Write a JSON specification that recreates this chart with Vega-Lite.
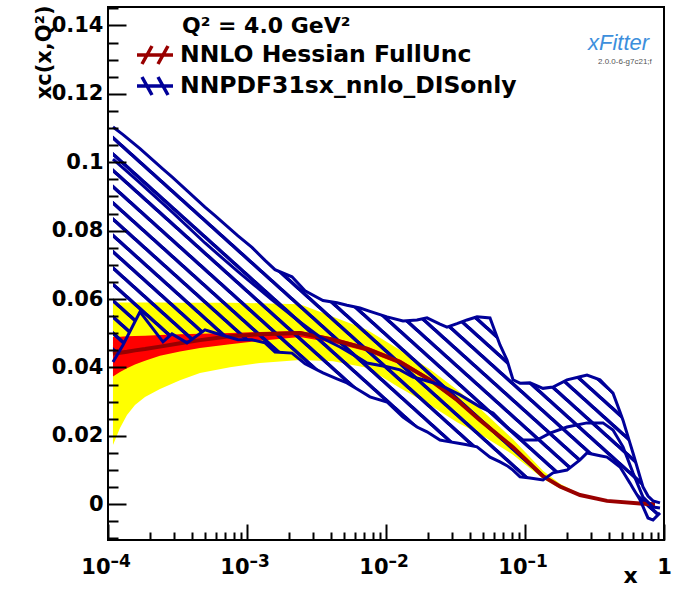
{
  "$schema": "https://vega.github.io/schema/vega-lite/v6.json",
  "width": 556,
  "height": 533,
  "autosize": "none",
  "padding": {"left": 108, "top": 7, "right": 13, "bottom": 49},
  "background": "white",
  "datasets": {
    "nnlo": [
      {"series": "NNLO Hessian FullUnc", "x": 0.0001086, "c": 0.0440, "rlo": 0.0374, "rhi": 0.0489, "ylo": 0.0173, "yhi": 0.0590},
      {"series": "NNLO Hessian FullUnc", "x": 0.0001220, "c": 0.0443, "rlo": 0.0387, "rhi": 0.0490, "ylo": 0.0223, "yhi": 0.0590},
      {"series": "NNLO Hessian FullUnc", "x": 0.0001370, "c": 0.0446, "rlo": 0.0398, "rhi": 0.0491, "ylo": 0.0261, "yhi": 0.0590},
      {"series": "NNLO Hessian FullUnc", "x": 0.0001564, "c": 0.0450, "rlo": 0.0409, "rhi": 0.0492, "ylo": 0.0290, "yhi": 0.0590},
      {"series": "NNLO Hessian FullUnc", "x": 0.0001846, "c": 0.0454, "rlo": 0.0420, "rhi": 0.0493, "ylo": 0.0314, "yhi": 0.0590},
      {"series": "NNLO Hessian FullUnc", "x": 0.0002366, "c": 0.0461, "rlo": 0.0434, "rhi": 0.0495, "ylo": 0.0337, "yhi": 0.0590},
      {"series": "NNLO Hessian FullUnc", "x": 0.0003296, "c": 0.0471, "rlo": 0.0447, "rhi": 0.0497, "ylo": 0.0363, "yhi": 0.0589},
      {"series": "NNLO Hessian FullUnc", "x": 0.0004590, "c": 0.0480, "rlo": 0.0457, "rhi": 0.0499, "ylo": 0.0384, "yhi": 0.0589},
      {"series": "NNLO Hessian FullUnc", "x": 0.0007545, "c": 0.0491, "rlo": 0.0468, "rhi": 0.0501, "ylo": 0.0401, "yhi": 0.0589},
      {"series": "NNLO Hessian FullUnc", "x": 0.001241, "c": 0.0497, "rlo": 0.0478, "rhi": 0.0504, "ylo": 0.0413, "yhi": 0.0588},
      {"series": "NNLO Hessian FullUnc", "x": 0.002405, "c": 0.0501, "rlo": 0.0489, "rhi": 0.0507, "ylo": 0.0422, "yhi": 0.0585},
      {"series": "NNLO Hessian FullUnc", "x": 0.004156, "c": 0.0481, "rlo": 0.0472, "rhi": 0.0488, "ylo": 0.0418, "yhi": 0.0548},
      {"series": "NNLO Hessian FullUnc", "x": 0.007300, "c": 0.0454, "rlo": 0.0447, "rhi": 0.0461, "ylo": 0.0399, "yhi": 0.0510},
      {"series": "NNLO Hessian FullUnc", "x": 0.01261, "c": 0.0416, "rlo": 0.0409, "rhi": 0.0423, "ylo": 0.0340, "yhi": 0.0451},
      {"series": "NNLO Hessian FullUnc", "x": 0.02072, "c": 0.0364, "rlo": 0.0358, "rhi": 0.0370, "ylo": 0.0290, "yhi": 0.0395},
      {"series": "NNLO Hessian FullUnc", "x": 0.03242, "c": 0.0305, "rlo": 0.0299, "rhi": 0.0311, "ylo": 0.0240, "yhi": 0.0335},
      {"series": "NNLO Hessian FullUnc", "x": 0.04745, "c": 0.0246, "rlo": 0.0241, "rhi": 0.0251, "ylo": 0.0205, "yhi": 0.0280},
      {"series": "NNLO Hessian FullUnc", "x": 0.08196, "c": 0.0167, "rlo": 0.0163, "rhi": 0.0171, "ylo": 0.0145, "yhi": 0.0190},
      {"series": "NNLO Hessian FullUnc", "x": 0.1347, "c": 0.0082, "rlo": 0.0080, "rhi": 0.0084, "ylo": 0.0075, "yhi": 0.0098},
      {"series": "NNLO Hessian FullUnc", "x": 0.1786, "c": 0.0052, "rlo": 0.0051, "rhi": 0.0053, "ylo": 0.0046, "yhi": 0.0060},
      {"series": "NNLO Hessian FullUnc", "x": 0.2487, "c": 0.0027, "rlo": 0.0026, "rhi": 0.0028, "ylo": 0.0025, "yhi": 0.0030},
      {"series": "NNLO Hessian FullUnc", "x": 0.3890, "c": 0.0010, "rlo": 0.0010, "rhi": 0.0010, "ylo": 0.0009, "yhi": 0.0011},
      {"series": "NNLO Hessian FullUnc", "x": 0.6720, "c": 0.0002, "rlo": 0.0002, "rhi": 0.0002, "ylo": 0.0002, "yhi": 0.0002},
      {"series": "NNLO Hessian FullUnc", "x": 0.8617, "c": 0.0, "rlo": 0.0, "rhi": 0.0, "ylo": 0.0, "yhi": 0.0}
    ],
    "nnpdf": [
      {"x": 0.0001086, "lo": 0.0416, "hi": 0.1103},
      {"x": 0.0001282, "lo": 0.0466, "hi": 0.1081},
      {"x": 0.0001699, "lo": 0.0563, "hi": 0.1040},
      {"x": 0.0002487, "lo": 0.0475, "hi": 0.0980},
      {"x": 0.0002886, "lo": 0.0498, "hi": 0.0957},
      {"x": 0.0003701, "lo": 0.0472, "hi": 0.0917},
      {"x": 0.0004986, "lo": 0.0510, "hi": 0.0869},
      {"x": 0.0005886, "lo": 0.0501, "hi": 0.0844},
      {"x": 0.0008615, "lo": 0.0481, "hi": 0.0785},
      {"x": 0.001086, "lo": 0.0481, "hi": 0.0751},
      {"x": 0.001348, "lo": 0.0472, "hi": 0.0713},
      {"x": 0.001590, "lo": 0.0445, "hi": 0.0686},
      {"x": 0.002107, "lo": 0.0442, "hi": 0.0665},
      {"x": 0.002615, "lo": 0.0411, "hi": 0.0624},
      {"x": 0.003522, "lo": 0.0384, "hi": 0.0596},
      {"x": 0.004441, "lo": 0.0367, "hi": 0.0589},
      {"x": 0.005240, "lo": 0.0355, "hi": 0.0582},
      {"x": 0.006499, "lo": 0.0332, "hi": 0.0574},
      {"x": 0.007669, "lo": 0.0314, "hi": 0.0564},
      {"x": 0.01017, "lo": 0.0299, "hi": 0.0548},
      {"x": 0.01325, "lo": 0.0255, "hi": 0.0536},
      {"x": 0.01671, "lo": 0.0226, "hi": 0.0539},
      {"x": 0.01972, "lo": 0.0212, "hi": 0.0545},
      {"x": 0.02446, "lo": 0.0188, "hi": 0.0527},
      {"x": 0.02747, "lo": 0.0184, "hi": 0.0518},
      {"x": 0.03242, "lo": 0.0179, "hi": 0.0528},
      {"x": 0.03826, "lo": 0.0174, "hi": 0.0539},
      {"x": 0.04516, "lo": 0.0168, "hi": 0.0548},
      {"x": 0.05600, "lo": 0.0138, "hi": 0.0545},
      {"x": 0.06609, "lo": 0.0124, "hi": 0.0466},
      {"x": 0.07422, "lo": 0.0113, "hi": 0.0422},
      {"x": 0.08196, "lo": 0.0100, "hi": 0.0364},
      {"x": 0.09205, "lo": 0.0080, "hi": 0.0354},
      {"x": 0.1086, "lo": 0.0077, "hi": 0.0355},
      {"x": 0.1347, "lo": 0.0071, "hi": 0.0339},
      {"x": 0.1590, "lo": 0.0092, "hi": 0.0343},
      {"x": 0.2005, "lo": 0.0100, "hi": 0.0364},
      {"x": 0.2487, "lo": 0.0130, "hi": 0.0373},
      {"x": 0.2793, "lo": 0.0150, "hi": 0.0378},
      {"x": 0.3464, "lo": 0.0142, "hi": 0.0364},
      {"x": 0.3890, "lo": 0.0138, "hi": 0.0343},
      {"x": 0.4296, "lo": 0.0125, "hi": 0.0325},
      {"x": 0.4826, "lo": 0.0109, "hi": 0.0270},
      {"x": 0.5070, "lo": 0.0095, "hi": 0.0246},
      {"x": 0.5692, "lo": 0.0062, "hi": 0.0179},
      {"x": 0.5983, "lo": 0.0047, "hi": 0.0150},
      {"x": 0.6720, "lo": 0.0013, "hi": 0.0080},
      {"x": 0.7062, "lo": -0.0007, "hi": 0.0051},
      {"x": 0.7671, "lo": -0.0040, "hi": 0.0024},
      {"x": 0.8334, "lo": -0.0046, "hi": 0.0010},
      {"x": 0.9358, "lo": -0.0025, "hi": 0.0004}
    ],
    "nnpdfMid": [
      {"series": "NNPDF31sx_nnlo_DISonly", "x": 0.0001086, "m": 0.1009},
      {"series": "NNPDF31sx_nnlo_DISonly", "x": 0.0001643, "m": 0.0945},
      {"series": "NNPDF31sx_nnlo_DISonly", "x": 0.0002886, "m": 0.0855},
      {"series": "NNPDF31sx_nnlo_DISonly", "x": 0.0004986, "m": 0.0764},
      {"series": "NNPDF31sx_nnlo_DISonly", "x": 0.0008615, "m": 0.0680},
      {"series": "NNPDF31sx_nnlo_DISonly", "x": 0.001513, "m": 0.0598},
      {"series": "NNPDF31sx_nnlo_DISonly", "x": 0.002405, "m": 0.0533},
      {"series": "NNPDF31sx_nnlo_DISonly", "x": 0.003351, "m": 0.0489},
      {"series": "NNPDF31sx_nnlo_DISonly", "x": 0.004667, "m": 0.0460},
      {"series": "NNPDF31sx_nnlo_DISonly", "x": 0.006184, "m": 0.0431},
      {"series": "NNPDF31sx_nnlo_DISonly", "x": 0.007300, "m": 0.0413},
      {"series": "NNPDF31sx_nnlo_DISonly", "x": 0.01017, "m": 0.0402},
      {"series": "NNPDF31sx_nnlo_DISonly", "x": 0.01261, "m": 0.0393},
      {"series": "NNPDF31sx_nnlo_DISonly", "x": 0.01564, "m": 0.0372},
      {"series": "NNPDF31sx_nnlo_DISonly", "x": 0.01845, "m": 0.0364},
      {"series": "NNPDF31sx_nnlo_DISonly", "x": 0.02446, "m": 0.0349},
      {"series": "NNPDF31sx_nnlo_DISonly", "x": 0.03407, "m": 0.0320},
      {"series": "NNPDF31sx_nnlo_DISonly", "x": 0.04745, "m": 0.0285},
      {"series": "NNPDF31sx_nnlo_DISonly", "x": 0.05886, "m": 0.0267},
      {"series": "NNPDF31sx_nnlo_DISonly", "x": 0.07422, "m": 0.0226},
      {"series": "NNPDF31sx_nnlo_DISonly", "x": 0.09674, "m": 0.0188},
      {"series": "NNPDF31sx_nnlo_DISonly", "x": 0.1220, "m": 0.0188},
      {"series": "NNPDF31sx_nnlo_DISonly", "x": 0.1513, "m": 0.0208},
      {"series": "NNPDF31sx_nnlo_DISonly", "x": 0.2005, "m": 0.0226},
      {"series": "NNPDF31sx_nnlo_DISonly", "x": 0.2793, "m": 0.0238},
      {"series": "NNPDF31sx_nnlo_DISonly", "x": 0.3640, "m": 0.0238},
      {"series": "NNPDF31sx_nnlo_DISonly", "x": 0.4296, "m": 0.0217},
      {"series": "NNPDF31sx_nnlo_DISonly", "x": 0.5070, "m": 0.0168},
      {"series": "NNPDF31sx_nnlo_DISonly", "x": 0.5983, "m": 0.0092},
      {"series": "NNPDF31sx_nnlo_DISonly", "x": 0.7062, "m": 0.0021},
      {"series": "NNPDF31sx_nnlo_DISonly", "x": 0.8334, "m": -0.0008},
      {"series": "NNPDF31sx_nnlo_DISonly", "x": 0.9358, "m": -0.0011}
    ]
  },
  "resolve": {"axis": {"x": "independent", "y": "independent"}},
  "layer": [
    {
      "data": {"name": "nnlo"},
      "mark": {"type": "area", "color": "#ffff00", "clip": true},
      "encoding": {
        "x": {"field": "x", "type": "quantitative", "scale": {"type": "log", "domain": [0.0001, 1], "nice": false},
          "axis": {"orient": "bottom", "values": [0.0001, 0.001, 0.01, 0.1, 1], "labels": false, "tickSize": -16, "domain": false, "grid": false, "zindex": 1,
            "title": "x", "titleX": 515, "titleY": 42, "titleAlign": "left", "titleBaseline": "alphabetic", "titleFont": "DejaVu Sans", "titleFontWeight": "bold", "titleFontSize": 22, "titleColor": "black"}},
        "y": {"field": "ylo", "type": "quantitative", "scale": {"domain": [-0.01044, 0.1454], "nice": false, "zero": false},
          "axis": {"orient": "left", "values": [0, 0.02, 0.04, 0.06, 0.08, 0.1, 0.12, 0.14], "labels": false, "tickSize": -18, "domain": false, "grid": false, "zindex": 1,
            "title": "xc(x,Q²)", "titleX": -58, "titleY": -2, "titleAngle": 270, "titleAlign": "right", "titleBaseline": "alphabetic", "titleFont": "DejaVu Sans", "titleFontWeight": "bold", "titleFontSize": 21, "titleColor": "black"}},
        "y2": {"field": "yhi"}
      }
    },
    {
      "data": {"name": "nnlo"},
      "mark": {"type": "area", "color": "#ff0000", "clip": true},
      "encoding": {
        "x": {"field": "x", "type": "quantitative", "scale": {"type": "log", "domain": [0.0001, 1], "nice": false},
          "axis": {"orient": "bottom", "values": [0.0002, 0.0003, 0.0004, 0.0005, 0.0006, 0.0007, 0.0008, 0.0009, 0.002, 0.003, 0.004, 0.005, 0.006, 0.007, 0.008, 0.009, 0.02, 0.03, 0.04, 0.05, 0.06, 0.07, 0.08, 0.09, 0.2, 0.3, 0.4, 0.5, 0.6, 0.7, 0.8, 0.9],
            "labels": false, "tickSize": -8, "domain": false, "grid": false, "zindex": 1, "title": null}},
        "y": {"field": "rlo", "type": "quantitative", "scale": {"domain": [-0.01044, 0.1454], "nice": false, "zero": false},
          "axis": {"orient": "left", "values": [-0.01, -0.005, 0.005, 0.01, 0.015, 0.025, 0.03, 0.035, 0.045, 0.05, 0.055, 0.065, 0.07, 0.075, 0.085, 0.09, 0.095, 0.105, 0.11, 0.115, 0.125, 0.13, 0.135, 0.145],
            "labels": false, "tickSize": -10, "domain": false, "grid": false, "zindex": 1, "title": null}},
        "y2": {"field": "rhi"}
      }
    },
    {
      "data": {"name": "nnpdf"},
      "mark": {
        "type": "area", "clip": true,
        "fill": {
          "gradient": "linear", "x1": 0, "y1": 1, "x2": 1.0984, "y2": 0.1234,
          "stops": [
            {"offset": 0.0054, "color": "rgba(0,0,153,0)"}, {"offset": 0.0066, "color": "#000099"}, {"offset": 0.0108, "color": "#000099"}, {"offset": 0.0120, "color": "rgba(0,0,153,0)"},
            {"offset": 0.0238, "color": "rgba(0,0,153,0)"}, {"offset": 0.0250, "color": "#000099"}, {"offset": 0.0292, "color": "#000099"}, {"offset": 0.0304, "color": "rgba(0,0,153,0)"},
            {"offset": 0.0422, "color": "rgba(0,0,153,0)"}, {"offset": 0.0434, "color": "#000099"}, {"offset": 0.0476, "color": "#000099"}, {"offset": 0.0488, "color": "rgba(0,0,153,0)"},
            {"offset": 0.0606, "color": "rgba(0,0,153,0)"}, {"offset": 0.0618, "color": "#000099"}, {"offset": 0.0660, "color": "#000099"}, {"offset": 0.0672, "color": "rgba(0,0,153,0)"},
            {"offset": 0.0790, "color": "rgba(0,0,153,0)"}, {"offset": 0.0802, "color": "#000099"}, {"offset": 0.0844, "color": "#000099"}, {"offset": 0.0856, "color": "rgba(0,0,153,0)"},
            {"offset": 0.0974, "color": "rgba(0,0,153,0)"}, {"offset": 0.0986, "color": "#000099"}, {"offset": 0.1028, "color": "#000099"}, {"offset": 0.1040, "color": "rgba(0,0,153,0)"},
            {"offset": 0.1158, "color": "rgba(0,0,153,0)"}, {"offset": 0.1170, "color": "#000099"}, {"offset": 0.1212, "color": "#000099"}, {"offset": 0.1224, "color": "rgba(0,0,153,0)"},
            {"offset": 0.1341, "color": "rgba(0,0,153,0)"}, {"offset": 0.1353, "color": "#000099"}, {"offset": 0.1395, "color": "#000099"}, {"offset": 0.1407, "color": "rgba(0,0,153,0)"},
            {"offset": 0.1525, "color": "rgba(0,0,153,0)"}, {"offset": 0.1537, "color": "#000099"}, {"offset": 0.1579, "color": "#000099"}, {"offset": 0.1591, "color": "rgba(0,0,153,0)"},
            {"offset": 0.1709, "color": "rgba(0,0,153,0)"}, {"offset": 0.1721, "color": "#000099"}, {"offset": 0.1763, "color": "#000099"}, {"offset": 0.1775, "color": "rgba(0,0,153,0)"},
            {"offset": 0.1893, "color": "rgba(0,0,153,0)"}, {"offset": 0.1905, "color": "#000099"}, {"offset": 0.1947, "color": "#000099"}, {"offset": 0.1959, "color": "rgba(0,0,153,0)"},
            {"offset": 0.2077, "color": "rgba(0,0,153,0)"}, {"offset": 0.2089, "color": "#000099"}, {"offset": 0.2131, "color": "#000099"}, {"offset": 0.2143, "color": "rgba(0,0,153,0)"},
            {"offset": 0.2261, "color": "rgba(0,0,153,0)"}, {"offset": 0.2273, "color": "#000099"}, {"offset": 0.2315, "color": "#000099"}, {"offset": 0.2327, "color": "rgba(0,0,153,0)"},
            {"offset": 0.2445, "color": "rgba(0,0,153,0)"}, {"offset": 0.2457, "color": "#000099"}, {"offset": 0.2499, "color": "#000099"}, {"offset": 0.2511, "color": "rgba(0,0,153,0)"},
            {"offset": 0.2629, "color": "rgba(0,0,153,0)"}, {"offset": 0.2641, "color": "#000099"}, {"offset": 0.2683, "color": "#000099"}, {"offset": 0.2695, "color": "rgba(0,0,153,0)"},
            {"offset": 0.2813, "color": "rgba(0,0,153,0)"}, {"offset": 0.2825, "color": "#000099"}, {"offset": 0.2867, "color": "#000099"}, {"offset": 0.2879, "color": "rgba(0,0,153,0)"},
            {"offset": 0.2997, "color": "rgba(0,0,153,0)"}, {"offset": 0.3009, "color": "#000099"}, {"offset": 0.3051, "color": "#000099"}, {"offset": 0.3063, "color": "rgba(0,0,153,0)"},
            {"offset": 0.3181, "color": "rgba(0,0,153,0)"}, {"offset": 0.3193, "color": "#000099"}, {"offset": 0.3235, "color": "#000099"}, {"offset": 0.3247, "color": "rgba(0,0,153,0)"},
            {"offset": 0.3365, "color": "rgba(0,0,153,0)"}, {"offset": 0.3377, "color": "#000099"}, {"offset": 0.3419, "color": "#000099"}, {"offset": 0.3431, "color": "rgba(0,0,153,0)"},
            {"offset": 0.3548, "color": "rgba(0,0,153,0)"}, {"offset": 0.3560, "color": "#000099"}, {"offset": 0.3602, "color": "#000099"}, {"offset": 0.3614, "color": "rgba(0,0,153,0)"},
            {"offset": 0.3732, "color": "rgba(0,0,153,0)"}, {"offset": 0.3744, "color": "#000099"}, {"offset": 0.3786, "color": "#000099"}, {"offset": 0.3798, "color": "rgba(0,0,153,0)"},
            {"offset": 0.3916, "color": "rgba(0,0,153,0)"}, {"offset": 0.3928, "color": "#000099"}, {"offset": 0.3970, "color": "#000099"}, {"offset": 0.3982, "color": "rgba(0,0,153,0)"},
            {"offset": 0.4100, "color": "rgba(0,0,153,0)"}, {"offset": 0.4112, "color": "#000099"}, {"offset": 0.4154, "color": "#000099"}, {"offset": 0.4166, "color": "rgba(0,0,153,0)"},
            {"offset": 0.4284, "color": "rgba(0,0,153,0)"}, {"offset": 0.4296, "color": "#000099"}, {"offset": 0.4338, "color": "#000099"}, {"offset": 0.4350, "color": "rgba(0,0,153,0)"},
            {"offset": 0.4468, "color": "rgba(0,0,153,0)"}, {"offset": 0.4480, "color": "#000099"}, {"offset": 0.4522, "color": "#000099"}, {"offset": 0.4534, "color": "rgba(0,0,153,0)"},
            {"offset": 0.4652, "color": "rgba(0,0,153,0)"}, {"offset": 0.4664, "color": "#000099"}, {"offset": 0.4706, "color": "#000099"}, {"offset": 0.4718, "color": "rgba(0,0,153,0)"},
            {"offset": 0.4836, "color": "rgba(0,0,153,0)"}, {"offset": 0.4848, "color": "#000099"}, {"offset": 0.4890, "color": "#000099"}, {"offset": 0.4902, "color": "rgba(0,0,153,0)"},
            {"offset": 0.5020, "color": "rgba(0,0,153,0)"}, {"offset": 0.5032, "color": "#000099"}, {"offset": 0.5074, "color": "#000099"}, {"offset": 0.5086, "color": "rgba(0,0,153,0)"},
            {"offset": 0.5204, "color": "rgba(0,0,153,0)"}, {"offset": 0.5216, "color": "#000099"}, {"offset": 0.5258, "color": "#000099"}, {"offset": 0.5270, "color": "rgba(0,0,153,0)"},
            {"offset": 0.5388, "color": "rgba(0,0,153,0)"}, {"offset": 0.5400, "color": "#000099"}, {"offset": 0.5442, "color": "#000099"}, {"offset": 0.5454, "color": "rgba(0,0,153,0)"},
            {"offset": 0.5572, "color": "rgba(0,0,153,0)"}, {"offset": 0.5584, "color": "#000099"}, {"offset": 0.5626, "color": "#000099"}, {"offset": 0.5638, "color": "rgba(0,0,153,0)"},
            {"offset": 0.5756, "color": "rgba(0,0,153,0)"}, {"offset": 0.5768, "color": "#000099"}, {"offset": 0.5810, "color": "#000099"}, {"offset": 0.5822, "color": "rgba(0,0,153,0)"},
            {"offset": 0.5939, "color": "rgba(0,0,153,0)"}, {"offset": 0.5951, "color": "#000099"}, {"offset": 0.5993, "color": "#000099"}, {"offset": 0.6005, "color": "rgba(0,0,153,0)"},
            {"offset": 0.6123, "color": "rgba(0,0,153,0)"}, {"offset": 0.6135, "color": "#000099"}, {"offset": 0.6177, "color": "#000099"}, {"offset": 0.6189, "color": "rgba(0,0,153,0)"},
            {"offset": 0.6307, "color": "rgba(0,0,153,0)"}, {"offset": 0.6319, "color": "#000099"}, {"offset": 0.6361, "color": "#000099"}, {"offset": 0.6373, "color": "rgba(0,0,153,0)"},
            {"offset": 0.6491, "color": "rgba(0,0,153,0)"}, {"offset": 0.6503, "color": "#000099"}, {"offset": 0.6545, "color": "#000099"}, {"offset": 0.6557, "color": "rgba(0,0,153,0)"},
            {"offset": 0.6675, "color": "rgba(0,0,153,0)"}, {"offset": 0.6687, "color": "#000099"}, {"offset": 0.6729, "color": "#000099"}, {"offset": 0.6741, "color": "rgba(0,0,153,0)"},
            {"offset": 0.6859, "color": "rgba(0,0,153,0)"}, {"offset": 0.6871, "color": "#000099"}, {"offset": 0.6913, "color": "#000099"}, {"offset": 0.6925, "color": "rgba(0,0,153,0)"},
            {"offset": 0.7043, "color": "rgba(0,0,153,0)"}, {"offset": 0.7055, "color": "#000099"}, {"offset": 0.7097, "color": "#000099"}, {"offset": 0.7109, "color": "rgba(0,0,153,0)"},
            {"offset": 0.7227, "color": "rgba(0,0,153,0)"}, {"offset": 0.7239, "color": "#000099"}, {"offset": 0.7281, "color": "#000099"}, {"offset": 0.7293, "color": "rgba(0,0,153,0)"},
            {"offset": 0.7411, "color": "rgba(0,0,153,0)"}, {"offset": 0.7423, "color": "#000099"}, {"offset": 0.7465, "color": "#000099"}, {"offset": 0.7477, "color": "rgba(0,0,153,0)"},
            {"offset": 0.7595, "color": "rgba(0,0,153,0)"}, {"offset": 0.7607, "color": "#000099"}, {"offset": 0.7649, "color": "#000099"}, {"offset": 0.7661, "color": "rgba(0,0,153,0)"},
            {"offset": 0.7779, "color": "rgba(0,0,153,0)"}, {"offset": 0.7791, "color": "#000099"}, {"offset": 0.7833, "color": "#000099"}, {"offset": 0.7845, "color": "rgba(0,0,153,0)"},
            {"offset": 0.7963, "color": "rgba(0,0,153,0)"}, {"offset": 0.7975, "color": "#000099"}, {"offset": 0.8017, "color": "#000099"}, {"offset": 0.8029, "color": "rgba(0,0,153,0)"},
            {"offset": 0.8146, "color": "rgba(0,0,153,0)"}, {"offset": 0.8158, "color": "#000099"}, {"offset": 0.8200, "color": "#000099"}, {"offset": 0.8212, "color": "rgba(0,0,153,0)"},
            {"offset": 0.8330, "color": "rgba(0,0,153,0)"}, {"offset": 0.8342, "color": "#000099"}, {"offset": 0.8384, "color": "#000099"}, {"offset": 0.8396, "color": "rgba(0,0,153,0)"},
            {"offset": 0.8514, "color": "rgba(0,0,153,0)"}, {"offset": 0.8526, "color": "#000099"}, {"offset": 0.8568, "color": "#000099"}, {"offset": 0.8580, "color": "rgba(0,0,153,0)"},
            {"offset": 0.8698, "color": "rgba(0,0,153,0)"}, {"offset": 0.8710, "color": "#000099"}, {"offset": 0.8752, "color": "#000099"}, {"offset": 0.8764, "color": "rgba(0,0,153,0)"},
            {"offset": 0.8882, "color": "rgba(0,0,153,0)"}, {"offset": 0.8894, "color": "#000099"}, {"offset": 0.8936, "color": "#000099"}, {"offset": 0.8948, "color": "rgba(0,0,153,0)"},
            {"offset": 0.9066, "color": "rgba(0,0,153,0)"}, {"offset": 0.9078, "color": "#000099"}, {"offset": 0.9120, "color": "#000099"}, {"offset": 0.9132, "color": "rgba(0,0,153,0)"},
            {"offset": 0.9250, "color": "rgba(0,0,153,0)"}, {"offset": 0.9262, "color": "#000099"}, {"offset": 0.9304, "color": "#000099"}, {"offset": 0.9316, "color": "rgba(0,0,153,0)"},
            {"offset": 0.9434, "color": "rgba(0,0,153,0)"}, {"offset": 0.9446, "color": "#000099"}, {"offset": 0.9488, "color": "#000099"}, {"offset": 0.9500, "color": "rgba(0,0,153,0)"},
            {"offset": 0.9618, "color": "rgba(0,0,153,0)"}, {"offset": 0.9630, "color": "#000099"}, {"offset": 0.9672, "color": "#000099"}, {"offset": 0.9684, "color": "rgba(0,0,153,0)"},
            {"offset": 0.9802, "color": "rgba(0,0,153,0)"}, {"offset": 0.9814, "color": "#000099"}, {"offset": 0.9856, "color": "#000099"}, {"offset": 0.9868, "color": "rgba(0,0,153,0)"}
          ]
        }
      },
      "encoding": {
        "x": {"field": "x", "type": "quantitative", "scale": {"type": "log", "domain": [0.0001, 1], "nice": false},
          "axis": {"orient": "bottom", "values": [0.0001, 0.001, 0.01, 0.1, 1], "ticks": false, "tickSize": 0, "domain": false, "grid": false, "title": null,
            "labelExpr": "datum.value > 0.5 ? '1' : '10'",
            "labelAlign": {"condition": {"test": "datum.value > 0.5", "value": "center"}, "value": "right"},
            "labelOffset": {"condition": {"test": "datum.value > 0.5", "value": 0}, "value": 2},
            "labelBaseline": "alphabetic", "labelPadding": 33, "labelFont": "DejaVu Sans", "labelFontWeight": "bold", "labelFontSize": 21, "labelColor": "black",
            "labelFlush": false, "labelOverlap": false, "zindex": 1}},
        "y": {"field": "lo", "type": "quantitative", "scale": {"domain": [-0.01044, 0.1454], "nice": false, "zero": false},
          "axis": {"orient": "left", "values": [0, 0.02, 0.04, 0.06, 0.08, 0.1, 0.12, 0.14], "ticks": false, "tickSize": 0, "domain": false, "grid": false, "title": null,
            "labelExpr": "format(datum.value, '.2~f')", "labelPadding": 5, "labelAlign": "right", "labelBaseline": "middle",
            "labelFont": "DejaVu Sans", "labelFontWeight": "bold", "labelFontSize": 21, "labelColor": "black", "labelFlush": false, "labelOverlap": false, "zindex": 1}},
        "y2": {"field": "hi"}
      }
    },
    {
      "data": {"name": "nnlo"},
      "mark": {"type": "line", "strokeWidth": 4, "clip": true},
      "encoding": {
        "x": {"field": "x", "type": "quantitative", "scale": {"type": "log", "domain": [0.0001, 1], "nice": false},
          "axis": {"orient": "bottom", "values": [0.0001, 0.001, 0.01, 0.1], "ticks": false, "tickSize": 0, "domain": false, "grid": false, "title": null,
            "labelExpr": "'–' + round(-log(datum.value) / LN10)", "labelAlign": "left", "labelOffset": 2,
            "labelBaseline": "alphabetic", "labelPadding": 26, "labelFont": "DejaVu Sans", "labelFontWeight": "bold", "labelFontSize": 17, "labelColor": "black",
            "labelFlush": false, "labelOverlap": false, "zindex": 1}},
        "y": {"field": "c", "type": "quantitative", "scale": {"domain": [-0.01044, 0.1454], "nice": false, "zero": false}, "axis": null},
        "color": {"field": "series", "type": "nominal",
          "scale": {"domain": ["NNLO Hessian FullUnc", "NNPDF31sx_nnlo_DISonly"], "range": ["#990000", "#000099"]},
          "legend": {
            "orient": "none", "legendX": 35, "legendY": 36, "title": null, "padding": 0,
            "labelFont": "DejaVu Sans", "labelFontWeight": "bold", "labelFontSize": 23.5, "labelColor": "black", "labelLimit": 420,
            "labelOffset": 13, "rowPadding": -1, "symbolSize": 400, "symbolStrokeWidth": 3.5,
            "encode": {"symbols": {"update": {
              "shape": {"signal": "datum.value === 'NNLO Hessian FullUnc' ? 'M-1.8,0L1.8,0M-1.3,0.9L-0.3,-0.9M0.3,0.9L1.3,-0.9' : 'M-1.8,0L1.8,0M-1.3,-0.9L-0.3,0.9M0.3,-0.9L1.3,0.9'"},
              "fill": {"value": "transparent"}
            }}}
          }}
      }
    },
    {
      "data": {"name": "nnpdfMid"},
      "mark": {"type": "line", "strokeWidth": 3, "clip": true},
      "encoding": {
        "x": {"field": "x", "type": "quantitative", "scale": {"type": "log", "domain": [0.0001, 1], "nice": false}, "axis": null},
        "y": {"field": "m", "type": "quantitative", "scale": {"domain": [-0.01044, 0.1454], "nice": false, "zero": false}, "axis": null},
        "color": {"field": "series", "type": "nominal"}
      }
    },
    {
      "data": {"name": "nnpdf"},
      "mark": {"type": "line", "color": "#000099", "strokeWidth": 3, "clip": true},
      "encoding": {
        "x": {"field": "x", "type": "quantitative", "scale": {"type": "log", "domain": [0.0001, 1], "nice": false}, "axis": null},
        "y": {"field": "hi", "type": "quantitative", "scale": {"domain": [-0.01044, 0.1454], "nice": false, "zero": false}, "axis": null}
      }
    },
    {
      "data": {"name": "nnpdf"},
      "mark": {"type": "line", "color": "#000099", "strokeWidth": 3, "clip": true},
      "encoding": {
        "x": {"field": "x", "type": "quantitative", "scale": {"type": "log", "domain": [0.0001, 1], "nice": false}, "axis": null},
        "y": {"field": "lo", "type": "quantitative", "scale": {"domain": [-0.01044, 0.1454], "nice": false, "zero": false}, "axis": null}
      }
    },
    {
      "data": {"values": [{"x": 0.0003407, "y": 0.1378, "text": "Q² = 4.0 GeV²"}]},
      "mark": {"type": "text", "align": "left", "baseline": "alphabetic", "font": "DejaVu Sans", "fontWeight": "bold", "fontSize": 22, "color": "black"},
      "encoding": {
        "x": {"field": "x", "type": "quantitative", "scale": {"type": "log", "domain": [0.0001, 1], "nice": false}, "axis": null},
        "y": {"field": "y", "type": "quantitative", "scale": {"domain": [-0.01044, 0.1454], "nice": false, "zero": false}, "axis": null},
        "text": {"field": "text"}
      }
    },
    {
      "data": {"values": [{"x": 0.2838, "y": 0.13283, "text": "xFitter"}]},
      "mark": {"type": "text", "align": "left", "baseline": "alphabetic", "font": "Liberation Sans", "fontStyle": "italic", "fontSize": 22, "color": "#3d8fdc"},
      "encoding": {
        "x": {"field": "x", "type": "quantitative", "scale": {"type": "log", "domain": [0.0001, 1], "nice": false}, "axis": null},
        "y": {"field": "y", "type": "quantitative", "scale": {"domain": [-0.01044, 0.1454], "nice": false, "zero": false}, "axis": null},
        "text": {"field": "text"}
      }
    },
    {
      "data": {"values": [{"x": 0.3350, "y": 0.12873, "text": "2.0.0-6-g7c21;f"}]},
      "mark": {"type": "text", "align": "left", "baseline": "alphabetic", "font": "Liberation Sans", "fontSize": 8, "color": "#555555"},
      "encoding": {
        "x": {"field": "x", "type": "quantitative", "scale": {"type": "log", "domain": [0.0001, 1], "nice": false}, "axis": null},
        "y": {"field": "y", "type": "quantitative", "scale": {"domain": [-0.01044, 0.1454], "nice": false, "zero": false}, "axis": null},
        "text": {"field": "text"}
      }
    }
  ],
  "config": {
    "view": {"stroke": "black", "strokeWidth": 2},
    "axis": {"grid": false, "domain": false, "tickColor": "black", "tickWidth": 2, "labelColor": "black", "titleColor": "black"}
  }
}
